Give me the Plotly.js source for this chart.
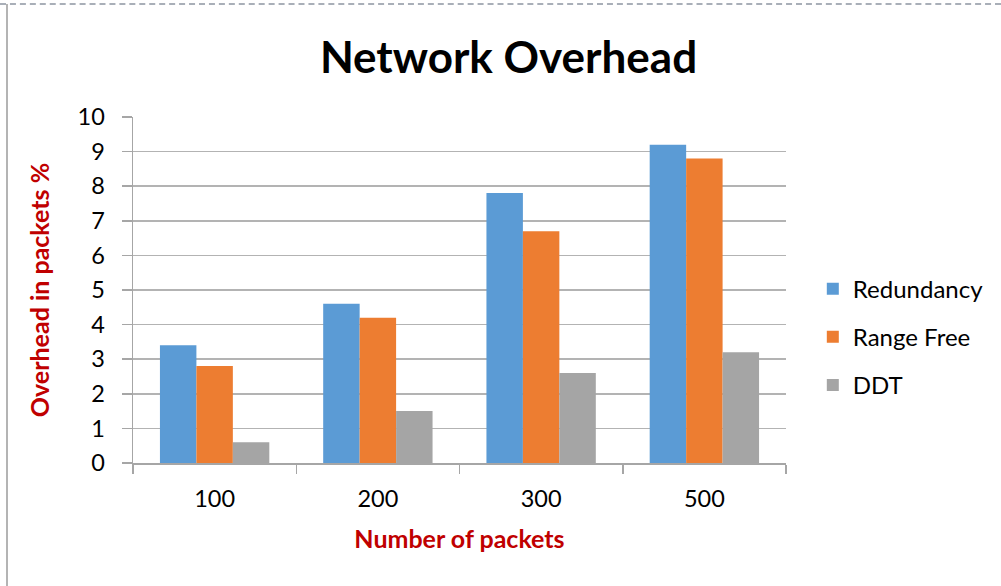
<!DOCTYPE html>
<html><head><meta charset="utf-8">
<script src="https://cdn.plot.ly/plotly-3.0.1.min.js"></script>
<style>
html,body{margin:0;padding:0;background:#fff;}
#wrap{position:relative;width:1001px;height:586px;overflow:hidden;}
#chart{position:absolute;left:0;top:0;width:1001px;height:586px;}
#bl{position:absolute;left:6px;top:4px;width:2px;height:582px;background:#b4b4b4;}
#bt{position:absolute;left:0;top:3px;width:1001px;height:0;border-top:2px dashed #a9afb8;}
</style></head>
<body><div id="wrap"><div id="chart"></div><div id="bl"></div><div id="bt"></div></div>
<script>
const categories = ["100", "200", "300", "500"];
const redundancy = [3.4, 4.6, 7.8, 9.2];
const rangeFree = [2.8, 4.2, 6.7, 8.8];
const ddt = [0.6, 1.5, 2.6, 3.2];
const seriesNames = ["Redundancy", "Range Free", "DDT"];
const colors = ["#5B9BD5", "#ED7D31", "#A5A5A5"];

const FONT = "Lato, 'Open Sans', sans-serif";
const traces = [redundancy, rangeFree, ddt].map((vals, i) => ({
  type: "bar", x: categories, y: vals, name: seriesNames[i],
  legendgroup: "g" + i,
  marker: {color: colors[i], line: {width: 0}},
  hoverinfo: "y"
}));

const layout = {
  width: 1001, height: 586,
  margin: {l: 133, r: 215, t: 117, b: 123, autoexpand: false},
  paper_bgcolor: "#fff", plot_bgcolor: "#fff",
  font: {family: FONT, color: "#000", size: 24},
  title: {text: "<b>Network Overhead</b>", x: 0.508, xanchor: "center", y: 0.902, yanchor: "middle",
          font: {family: FONT, size: 44, color: "#000"}},
  bargap: 0.33, bargroupgap: 0,
  xaxis: {
    type: "category", tickson: "boundaries", ticks: "outside", ticklen: 9, tickcolor: "#a6a6a6", tickwidth: 1.5,
    showline: true, linecolor: "#a6a6a6", linewidth: 1.5, showgrid: false,
    tickfont: {family: FONT, size: 23.5, color: "#000"}, ticklabelstandoff: 14,
    title: {text: "<b>Number of packets</b>", font: {family: FONT, size: 25, color: "#C00000"}, standoff: 20}
  },
  yaxis: {
    range: [0, 10], dtick: 1, tick0: 0, ticks: "outside", ticklen: 10, tickcolor: "#a6a6a6", tickwidth: 1.5,
    showline: true, linecolor: "#a6a6a6", linewidth: 1.5,
    showgrid: true, gridcolor: "#b3b3b3", gridwidth: 1.5, zeroline: false,
    tickfont: {family: FONT, size: 23.5, color: "#000"}, ticklabelstandoff: 12,
    title: {text: "<b>Overhead in packets %</b>", font: {family: FONT, size: 25, color: "#C00000"}, standoff: 21}
  },
  legend: {xref: "container", x: 0.812, xanchor: "left", y: 0.364, yanchor: "middle",
           font: {family: FONT, size: 24, color: "#000"},
           tracegroupgap: 14, itemwidth: 30, bgcolor: "rgba(0,0,0,0)"},
  showlegend: true
};
Plotly.newPlot("chart", traces, layout, {displayModeBar: false, staticPlot: true});
</script></body></html>
